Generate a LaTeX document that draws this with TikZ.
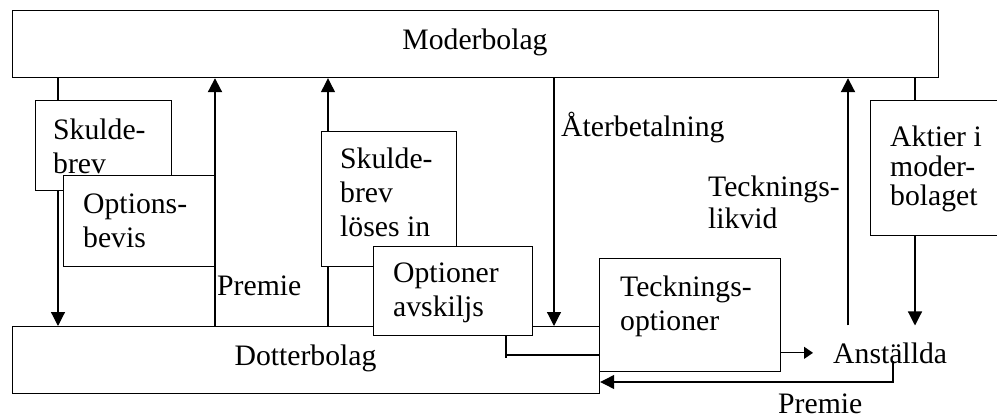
\documentclass[tikz,border=0pt]{standalone}
\usepackage{fontspec}
\setmainfont{Liberation Serif}
\usetikzlibrary{arrows.meta}
\begin{document}
\begin{tikzpicture}[x=1pt,y=-1pt,
  box/.style={draw, line width=1.2pt, fill=white, inner sep=0pt, anchor=north west},
  lbl/.style={inner sep=0pt, anchor=north west, align=left, font=\fontsize{29.7}{34}\selectfont},
  txt/.style={inner sep=0pt, font=\fontsize{29.7}{34}\selectfont},
  con/.style={line width=1.2pt},
  thk/.style={line width=2pt},
  arr/.style={-{Triangle[length=14pt,width=14pt]}},
  sarr/.style={-{Triangle[length=9pt,width=12pt]}},
]
\useasboundingbox (0,0) rectangle (997,417);
\clip (0,0) rectangle (997,417);

% columns / rows
\coordinate (c58) at (58,0);
\coordinate (c215) at (215,0);
\coordinate (c328) at (328,0);
\coordinate (c554) at (554,0);
\coordinate (c848) at (848,0);
\coordinate (c915) at (915,0);
\coordinate (c506) at (506,0);
\coordinate (c893) at (893,0);
\coordinate (r355) at (0,355);
\coordinate (r357) at (0,357.5);
\coordinate (r382) at (0,382);

% main boxes
\node[box, minimum width=926pt, minimum height=67pt] (moder) at (12,10) {};
\node[txt, anchor=base] (tmoder) at (475,49.5) {Moderbolag};
\node[box, minimum width=587pt, minimum height=67pt] (dotter) at (12,326) {};
\node[txt, anchor=base] (tdotter) at (305.5,365) {Dotterbolag};

% overlapping boxes
\node[box, minimum width=136pt, minimum height=90pt] (b1) at (35,100) {};
\node[lbl] (lb1) at ([shift={(18,18.7)}]b1.north west) {Skulde-\\brev};
\node[box, minimum width=152pt, minimum height=91pt] (bopt) at (63,175) {};
\node[lbl] (lbopt) at ([shift={(20,18.7)}]bopt.north west) {Options-\\bevis};
\node[box, minimum width=135pt, minimum height=135pt] (bskl) at (321,131) {};
\node[lbl] (lbskl) at ([shift={(19,16.7)}]bskl.north west) {Skulde-\\brev\\löses in};
\node[box, minimum width=159pt, minimum height=89pt] (boa) at (373,246) {};
\node[lbl] (lboa) at ([shift={(20,16.7)}]boa.north west) {Optioner\\avskiljs};
\node[box, minimum width=181pt, minimum height=113pt] (bteck) at (599,258) {};
\node[lbl] (lbteck) at ([shift={(21,17.2)}]bteck.north west) {Tecknings-\\optioner};
\node[box, minimum width=140pt, minimum height=135pt] (baktier) at (870,100) {};
\node[lbl, font=\fontsize{29.7}{29.5}\selectfont] (lbaktier) at ([shift={(20,25.7)}]baktier.north west) {Aktier i\\moder-\\bolaget};

% free labels
\node[txt, anchor=base west] (lret) at (561,137) {Återbetalning};
\node[lbl, font=\fontsize{29.7}{32.5}\selectfont] (llik) at (708,175.2) {Tecknings-\\likvid};
\node[txt, anchor=base west] (lprem1) at (217,295) {Premie};
\node[txt, anchor=base west] (lprem2) at (778,413) {Premie};
\node[txt, anchor=base west, inner xsep=20pt, inner ysep=16.7pt] (anst) at (813,363) {Anställda};

% connectors
\draw[con] (moder.south -| c58) -- (b1.north -| c58);
\draw[con,arr] (b1.south -| c58) -- (dotter.north -| c58);
\draw[thk,arr] (dotter.north -| c215) -- (moder.south -| c215);
\draw[con] (dotter.north -| c328) -- (bskl.south -| c328);
\draw[con,arr] (bskl.north -| c328) -- (moder.south -| c328);
\draw[con,arr] (moder.south -| c554) -- (dotter.north -| c554);
\draw[thk,arr] (anst.north -| c848) -- (moder.south -| c848);
\draw[con] (moder.south -| c915) -- (baktier.north -| c915);
\draw[con,arr] (baktier.south -| c915) -- (anst.north -| c915);
\draw[con] (boa.south -| c506) -- (c506 |- r357);
\draw[con] (c506 |- r355) -- (bteck.west |- r355);
\draw[con,sarr] (bteck.east |- anst.west) -- (anst.west);
\draw[con,arr] ([yshift=2pt]anst.base -| c893) |- (dotter.east |- r382);
\end{tikzpicture}
\end{document}
